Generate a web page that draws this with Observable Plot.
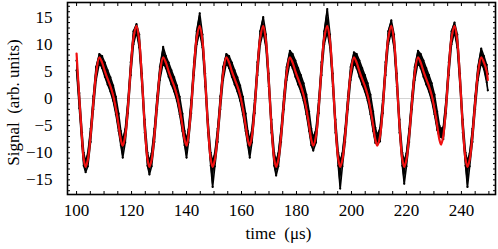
<!DOCTYPE html>
<html><head><meta charset="utf-8">
<script src="https://cdn.jsdelivr.net/npm/d3@7"></script>
<script src="https://cdn.jsdelivr.net/npm/@observablehq/plot@0.6"></script>
<style>
html,body{margin:0;padding:0;background:#fff}
#chart svg{display:block;font-family:"Liberation Serif","Times New Roman",serif}
</style>
</head><body><div id="chart"></div>
<script>
const time = [
100.0,101.0,102.0,102.6,103.3,104.1,105.1,106.1,107.1,108.3,109.3,110.3,111.3,112.3,113.3,114.3,115.3,116.1,116.8,
117.7,118.7,119.7,120.7,121.8,122.8,123.8,124.8,125.8,126.5,127.3,128.3,129.3,130.3,131.5,132.5,133.5,134.5,135.5,136.5,137.5,138.5,139.3,140.0,
140.7,141.7,142.7,143.7,144.8,145.8,146.8,147.8,148.8,149.5,150.3,151.3,152.3,153.3,154.5,155.5,156.5,157.5,158.5,159.5,160.5,161.5,162.3,163.0,
163.8,164.8,165.8,166.8,167.9,168.9,169.9,170.9,171.9,172.6,173.4,174.4,175.4,176.4,177.6,178.6,179.6,180.6,181.6,182.6,183.6,184.6,185.4,186.1,
187.1,188.1,189.1,190.1,191.2,192.2,193.2,194.2,195.2,195.9,196.7,197.7,198.7,199.7,200.9,201.9,202.9,203.9,204.9,205.9,206.9,207.9,208.7,209.4,
210.4,211.4,212.4,213.4,214.5,215.5,216.5,217.5,218.5,219.2,220.0,221.0,222.0,223.0,224.2,225.2,226.2,227.2,228.2,229.2,230.2,231.2,232.0,232.6,
233.4,234.4,235.4,236.4,237.5,238.5,239.5,240.5,241.5,242.2,243.0,244.0,245.0,246.0,247.2,248.2,249.2,249.6];

const fit = [
8.3,0.0,-7.5,-11.2,-12.6,-11.3,-6.8,-0.8,4.6,7.6,6.6,5.0,3.6,2.3,0.6,-1.9,-5.0,-7.6,-8.7,
-6.9,-1.5,5.5,11.2,13.4,10.6,3.4,-5.1,-11.2,-12.6,-11.3,-6.8,-0.8,4.6,7.6,6.6,5.0,3.6,2.3,0.6,-1.9,-5.0,-7.6,-8.7,
-6.9,-1.5,5.5,11.2,13.4,10.6,3.4,-5.1,-11.2,-12.6,-11.3,-6.8,-0.8,4.6,7.6,6.6,5.0,3.6,2.3,0.6,-1.9,-5.0,-7.6,-8.7,
-6.9,-1.5,5.5,11.2,13.4,10.6,3.4,-5.1,-11.2,-12.6,-11.3,-6.8,-0.8,4.6,7.6,6.6,5.0,3.6,2.3,0.6,-1.9,-5.0,-7.6,-8.7,
-6.9,-1.5,5.5,11.2,13.4,10.6,3.4,-5.1,-11.2,-12.6,-11.3,-6.8,-0.8,4.6,7.6,6.6,5.0,3.6,2.3,0.6,-1.9,-5.0,-7.6,-8.7,
-6.9,-1.5,5.5,11.2,13.4,10.6,3.4,-5.1,-11.2,-12.6,-11.3,-6.8,-0.8,4.6,7.6,6.6,5.0,3.6,2.3,0.6,-1.9,-5.0,-7.6,-8.5,
-6.9,-1.5,5.5,11.2,13.4,10.6,3.4,-5.1,-11.2,-12.6,-11.3,-6.8,-0.8,4.6,7.6,6.6,5.0,3.4];

const dotHigh = [
7.0,1.0,-6.3,-10.0,-11.6,-10.1,-5.6,0.4,5.8,8.2,7.8,6.6,5.2,3.9,2.4,0.3,-2.8,-6.0,-7.7,
-5.7,-0.3,6.7,12.4,13.7,11.8,4.6,-3.9,-10.0,-11.6,-10.1,-5.6,0.4,5.8,9.5,7.8,6.6,5.2,3.9,2.4,0.3,-2.8,-6.0,-7.7,
-5.7,-0.3,6.7,12.4,15.7,11.8,4.6,-3.9,-10.0,-11.6,-10.1,-5.6,0.4,5.8,8.2,7.8,6.6,5.2,3.9,2.4,0.3,-2.8,-6.0,-7.7,
-5.7,-0.3,6.7,12.4,15.0,11.8,4.6,-3.9,-10.0,-11.6,-10.1,-5.6,0.4,5.8,8.8,8.2,7.0,5.6,4.3,2.8,0.7,-2.4,-5.6,-7.3,
-5.7,-0.3,6.7,12.4,16.5,11.8,4.6,-3.9,-10.0,-11.6,-10.1,-5.6,0.4,5.8,8.5,8.2,7.0,5.6,4.3,2.8,0.7,-2.4,-5.4,-6.8,
-5.5,-0.3,6.7,12.4,14.4,11.8,4.6,-3.9,-10.0,-11.6,-10.1,-5.6,0.4,5.8,8.8,8.2,7.0,5.6,4.3,2.8,0.7,-2.4,-5.0,-5.6,
-5.3,-0.3,6.7,12.4,14.0,11.8,4.6,-3.9,-10.0,-11.6,-10.1,-5.6,0.4,5.8,9.2,7.8,6.2,4.5];

const dotLow = [
5.2,-1.8,-8.7,-12.4,-13.6,-12.5,-8.0,-2.0,3.4,6.6,5.6,4.0,2.6,1.3,-0.4,-2.9,-6.0,-8.6,-10.9,
-8.1,-2.7,4.3,10.0,12.3,9.4,2.2,-6.3,-12.4,-14.0,-12.5,-8.0,-2.0,3.4,6.6,5.6,4.0,2.6,1.3,-0.4,-2.9,-6.0,-8.6,-10.9,
-8.1,-2.7,4.3,10.0,12.3,9.4,2.2,-6.3,-12.4,-16.3,-12.5,-8.0,-2.0,3.4,6.6,5.6,4.0,2.6,1.3,-0.4,-2.9,-6.0,-8.6,-10.9,
-8.1,-2.7,4.3,10.0,12.3,9.4,2.2,-6.3,-12.4,-14.2,-12.5,-8.0,-2.0,3.4,6.6,5.6,4.0,2.6,1.3,-0.4,-2.9,-6.0,-8.6,-9.6,
-8.1,-2.7,4.3,10.0,12.3,9.4,2.2,-6.3,-12.4,-16.6,-12.5,-8.0,-2.0,3.4,6.6,5.6,4.0,2.6,1.3,-0.4,-2.9,-6.0,-8.2,-8.4,
-7.9,-2.7,4.3,10.0,12.3,9.4,2.2,-6.3,-12.4,-15.7,-12.5,-8.0,-2.0,3.4,6.6,5.6,4.0,2.6,1.3,-0.4,-2.9,-5.8,-7.1,-7.1,
-7.5,-2.7,4.3,10.0,12.3,9.4,2.2,-6.3,-12.4,-16.3,-12.5,-8.0,-2.0,3.4,6.6,5.4,3.0,1.5];

const xLabelTicks = [100, 120, 140, 160, 180, 200, 220, 240];
const xMinorTicks = [100,105,110,115,120,125,130,135,140,145,150,155,160,165,170,175,180,185,190,195,200,205,210,215,220,225,230,235,240,245,250];
const yLabelTicks = [-15, -10, -5, 0, 5, 10, 15];
const yMinorTicks = [-17,-16,-15,-14,-13,-12,-11,-10,-9,-8,-7,-6,-5,-4,-3,-2,-1,0,1,2,3,4,5,6,7,8,9,10,11,12,13,14,15,16,17];
const xTitle = "time\u00a0\u00a0(\u03bcs)";
const yTitle = "Signal\u00a0\u00a0(arb. units)";

const rows = time.map((t, i) => ({t, fit: fit[i], hi: dotHigh[i], lo: dotLow[i]}));

const chart = Plot.plot({
  width: 498, height: 249,
  marginLeft: 67, marginRight: 3, marginTop: 2, marginBottom: 55,
  style: {fontFamily: "'Liberation Serif', serif", fontSize: "17px", color: "black", background: "white"},
  x: {domain: [96.7, 252.4]},
  y: {domain: [-17.7, 17.7]},
  marks: [
    Plot.ruleY([0], {stroke: "#d4d4d4", strokeWidth: 1}),
    Plot.areaY(rows, {x: "t", y1: "lo", y2: "hi", fill: "black"}),
    Plot.line(rows, {x: "t", y: "hi", stroke: "black", strokeWidth: 1.6}),
    Plot.line(rows, {x: "t", y: "lo", stroke: "black", strokeWidth: 1.6}),
    Plot.dot(rows, {x: "t", y: "hi", r: 1.1, fill: "black"}),
    Plot.dot(rows, {x: "t", y: "lo", r: 1.1, fill: "black"}),
    Plot.line(rows, {x: "t", y: "fit", stroke: "#f01010", strokeWidth: 2.2, curve: "catmull-rom"}),
    Plot.frame({stroke: "black", strokeWidth: 1.6}),
    Plot.axisX(xMinorTicks, {anchor: "bottom", tickSize: -3, fill: "none", label: null}),
    Plot.axisX(xMinorTicks, {anchor: "top", tickSize: -3, fill: "none", label: null}),
    Plot.axisX(xLabelTicks, {anchor: "bottom", tickSize: 0, tickPadding: 9, label: null, fontSize: 17}),
    Plot.axisY(yMinorTicks, {anchor: "left", tickSize: -3, fill: "none", label: null}),
    Plot.axisY(yMinorTicks, {anchor: "right", tickSize: -3, fill: "none", label: null}),
    Plot.axisY(yLabelTicks, {anchor: "left", tickSize: 0, tickPadding: 15, label: null, fontSize: 17}),
    Plot.text([xTitle], {text: d => d, frameAnchor: "bottom", dy: 44, dx: -3, fontSize: 17}),
    Plot.text([yTitle], {text: d => d, frameAnchor: "left", textAnchor: "middle", rotate: -90, dx: -54, dy: 4, fontSize: 17})
  ]
});
document.getElementById("chart").appendChild(chart);
</script>
</body></html>
